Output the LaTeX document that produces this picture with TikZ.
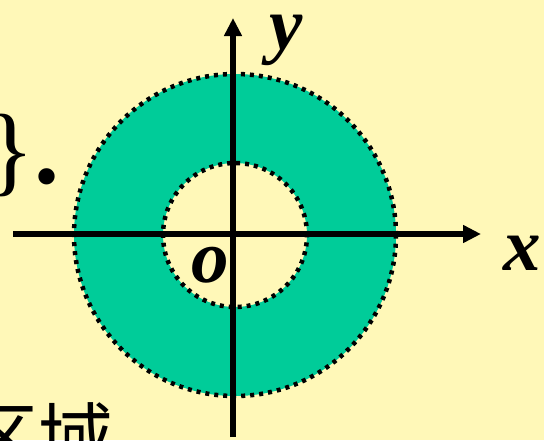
\documentclass[tikz,border=0pt]{standalone}
\usepackage{fontspec}
\setmainfont{Liberation Serif}
\newfontfamily\cjk{Noto Sans CJK SC}
\usetikzlibrary{arrows.meta}
\definecolor{bgyellow}{RGB}{255,248,184}
\definecolor{ringgreen}{RGB}{0,204,153}
\tikzset{
  axisline/.style={line width=5.5pt, -{Triangle[length=18pt,width=17pt]}},
  rim/.style={line width=4.5pt, dash pattern=on 4pt off 5pt},
  lbl/.style={font=\fontsize{75}{75}\selectfont\bfseries\itshape, inner sep=0pt}
}
\begin{document}
\begin{tikzpicture}[x=1pt, y=-1pt]
\fill[bgyellow] (0,0) rectangle (544,440);
\useasboundingbox (0,0) rectangle (544,440);
% annulus between the two dotted circles
\coordinate (O) at (235,235);
\fill[ringgreen, even odd rule] (O) circle[radius=161pt] (O) circle[radius=72pt];
\draw[rim] (O) circle[radius=161pt];
\draw[rim] (O) circle[radius=72pt];
\coordinate (xs) at (13,234);
\coordinate (xe) at (481,234);
\coordinate (ys) at (233,437);
\coordinate (ye) at (233,18);
\draw[axisline] (xs) -- (xe);
\draw[axisline] (ys) -- (ye);
\node[lbl, anchor=base] (ylbl) at (286,49) {y};
\node[lbl, anchor=base] (xlbl) at (522,270) {x};
\node[lbl, anchor=base] (olbl) at (210,282) {o};
\node[font=\fontsize{100}{100}\selectfont, inner sep=0pt, anchor=base east] (brace) at (60,183) {\}\textbf{.}};
\node[font=\fontsize{75}{75}\selectfont\cjk, inner sep=0pt, anchor=base west] (region) at (-37,465) {区域};
\end{tikzpicture}
\end{document}
